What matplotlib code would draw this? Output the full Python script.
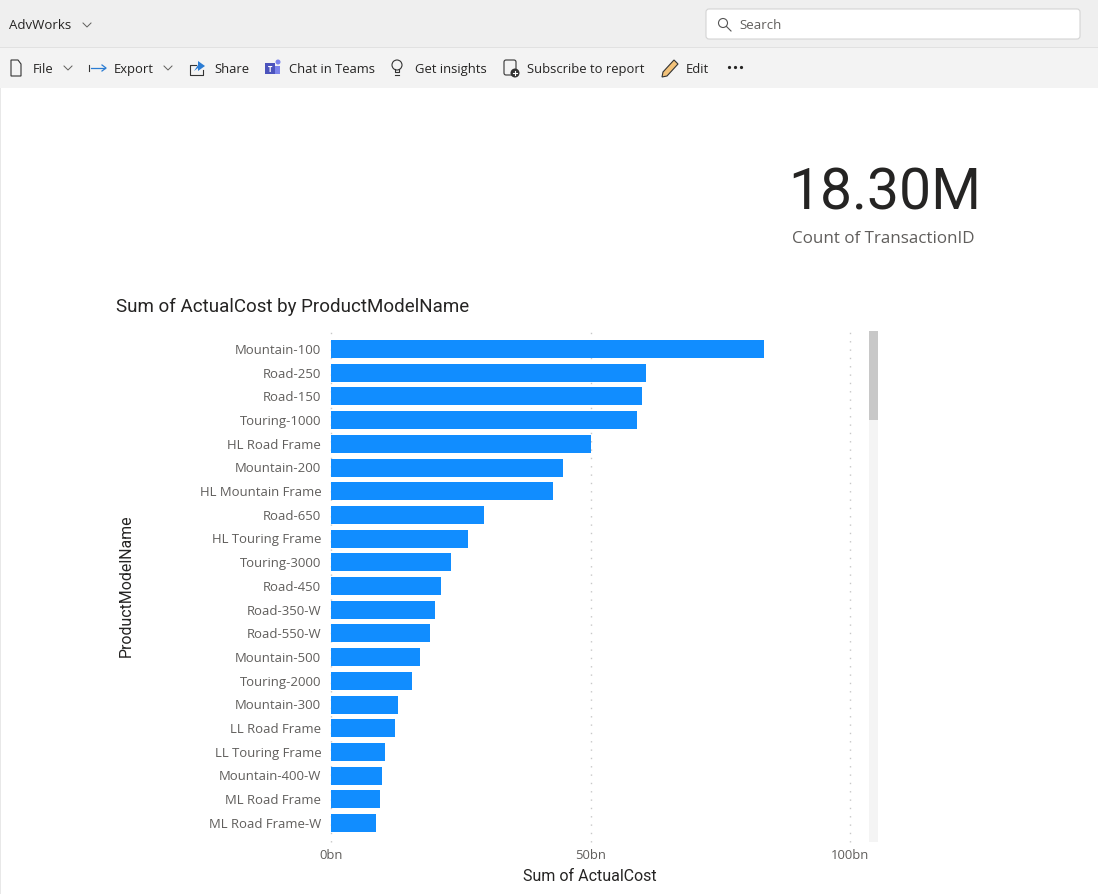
import matplotlib
matplotlib.use("Agg")
import matplotlib.pyplot as plt
from matplotlib.patches import Rectangle, FancyBboxPatch, Circle, Polygon
from matplotlib.transforms import ScaledTranslation

W, H = 1098, 895
UI = ["Open Sans", "DejaVu Sans"]
DIN = ["Roboto", "DejaVu Sans"]

categories = ["Mountain-100", "Road-250", "Road-150", "Touring-1000", "HL Road Frame",
              "Mountain-200", "HL Mountain Frame", "Road-650", "HL Touring Frame",
              "Touring-3000", "Road-450", "Road-350-W", "Road-550-W", "Mountain-500",
              "Touring-2000", "Mountain-300", "LL Road Frame", "LL Touring Frame",
              "Mountain-400-W", "ML Road Frame", "ML Road Frame-W"]
actual_cost_bn = [83.3, 60.6, 59.8, 59.0, 50.0, 44.6, 42.7, 29.4, 26.3, 23.1, 21.2,
                  20.0, 19.0, 17.1, 15.6, 12.9, 12.3, 10.4, 9.8, 9.4, 8.7]
x_ticks = [0, 50, 100]
x_tick_labels = ["0bn", "50bn", "100bn"]
kpi_value = "18.30M"
kpi_label = "Count of TransactionID"
toolbar_items = [("File", 33), ("Export", 114), ("Share", 214), ("Chat in Teams", 289),
                 ("Get insights", 415), ("Subscribe to report", 527), ("Edit", 686)]

fig = plt.figure(figsize=(W / 100, H / 100), dpi=100, facecolor="white")

# overlay in pixel coordinates for the app chrome
bg = fig.add_axes([0, 0, 1, 1], zorder=0)
bg.set_xlim(0, W); bg.set_ylim(H - 1, -1); bg.axis("off")
bg.add_patch(Rectangle((0, 0), W, 47, color="#efefef", lw=0))
bg.add_patch(Rectangle((0, 47), W, 1, color="#e1e1e1", lw=0))
bg.add_patch(Rectangle((0, 48), W, 40, color="#f3f3f3", lw=0))
bg.add_patch(Rectangle((0, 88), 1, H - 88, color="#e8e8e8", lw=0))
bg.add_patch(FancyBboxPatch((706, 9), 374, 30, boxstyle="round,pad=0,rounding_size=3",
                            fc="white", ec="#d4d4d4", lw=0.8))
bg.add_patch(Circle((723, 23), 4.5, fc="none", ec="#555555", lw=0.8))
bg.plot([726.5, 731], [26.5, 31], color="#555555", lw=0.8)
bg.text(739, 24.5, "Search", family=UI, fontsize=9.5, color="#605e5c", va="center")
bg.text(9, 24.5, "AdvWorks", family=UI, fontsize=9.5, color="#252423", va="center")
bg.plot([83, 87, 91], [23, 27, 23], color="#605e5c", lw=0.7)

for label, px in toolbar_items:
    bg.text(px, 68.5, label, family=UI, fontsize=9.4, color="#252423", va="center")
for cx in (68, 168):
    bg.plot([cx - 4, cx, cx + 4], [66, 70, 66], color="#605e5c", lw=0.7)

# toolbar icons
bg.add_patch(Polygon([(11, 60), (18, 60), (21, 64), (21, 76), (11, 76)], fc="none", ec="#333333", lw=0.8))
bg.plot([89, 89], [65, 71], color="#333333", lw=0.8)
bg.plot([91, 105], [68, 68], color="#2b7cd3", lw=0.9)
bg.plot([102, 106, 102], [65, 68, 71], color="#2b7cd3", lw=0.9)
bg.plot([196, 190, 190, 203, 203], [65, 65, 75, 75, 70], color="#333333", lw=0.8)
bg.add_patch(Polygon([(194, 71), (198, 65), (198, 61), (205, 66), (198, 71), (198, 68)], fc="#2b7cd3", lw=0))
bg.add_patch(Rectangle((265, 63), 10, 11, color="#4b53bc", lw=0))
bg.add_patch(Circle((278, 62), 2.5, color="#7b83eb", lw=0))
bg.add_patch(Rectangle((275, 66), 5, 8, color="#7b83eb", lw=0))
bg.text(270, 68.5, "T", color="white", fontsize=5.5, family=UI, ha="center", va="center", fontweight="bold")
bg.add_patch(Circle((397, 65), 5, fc="none", ec="#333333", lw=0.8))
bg.plot([395, 399], [75, 75], color="#333333", lw=0.8)
bg.plot([395, 395, 399, 399], [69, 72, 72, 69], color="#333333", lw=0.8)
bg.add_patch(FancyBboxPatch((504, 60), 12, 15, boxstyle="round,pad=0,rounding_size=2", fc="none", ec="#333333", lw=0.8))
bg.add_patch(Circle((515, 73), 4.5, color="#333333", lw=0))
bg.plot([513, 517], [73, 73], color="white", lw=0.8)
bg.plot([515, 515], [71, 75], color="white", lw=0.8)
bg.add_patch(Polygon([(663, 72), (674, 60), (678, 64), (667, 76), (662, 77)], fc="#f2c27a", ec="#333333", lw=0.8))
bg.plot([729, 735, 741], [67, 67, 67], ls="none", marker="o", ms=1.3, color="#252423")

# KPI card
bg.text(885, 193, kpi_value, family=DIN, fontsize=41, color="#252423", ha="center", va="center")
bg.text(792, 238, kpi_label, family=UI, fontsize=12.25, color="#605e5c", va="center")

# chart title and scrollbar track
bg.text(116, 306, "Sum of ActualCost by ProductModelName", family=DIN, fontsize=13.5,
        color="#252423", va="center")
bg.add_patch(Rectangle((869, 331), 9, 511, color="#f4f4f4", lw=0))
bg.add_patch(Rectangle((869, 331), 9, 89, color="#c8c8c8", lw=0))

# bar chart, axes box spans x 331-851 and y 331-842
ax = fig.add_axes([331 / W, 1 - 843 / H, 519.4 / W, 511 / H], zorder=1)
ax.patch.set_alpha(0)
positions = list(range(len(categories)))
ax.barh(positions, actual_cost_bn, height=0.76, color="#118dff", zorder=3)
ax.set_xlim(0, 100)
ax.set_ylim(20.8, -0.76)
ax.set_yticks(positions, categories)
ax.set_xticks(x_ticks, x_tick_labels)
for s in ax.spines.values():
    s.set_visible(False)
ax.tick_params(length=0)
ax.tick_params(axis="y", pad=7.1, labelsize=9.45, labelcolor="#605e5c")
ax.tick_params(axis="x", pad=4.5, labelsize=9.4, labelcolor="#605e5c")
shift_up = ScaledTranslation(0, 1.2 / 100, fig.dpi_scale_trans)
for t in ax.get_yticklabels():
    t.set_transform(t.get_transform() + shift_up)
for t in ax.get_xticklabels() + ax.get_yticklabels():
    t.set_fontfamily(UI)
ax.xaxis.grid(True, color="#c8c8c8", lw=1, ls=(0, (1, 5)), zorder=0)
for line in ax.get_xgridlines():
    line.set_clip_on(False)
ax.set_axisbelow(True)

bg.text(590, 876, "Sum of ActualCost", family=DIN, fontsize=11.5, color="#252423",
        ha="center", va="center")
bg.text(126, 585, "ProductModelName", family=DIN, fontsize=11.4, color="#252423",
        rotation=90, ha="center", va="center")

fig.savefig("out.png", dpi=100)
